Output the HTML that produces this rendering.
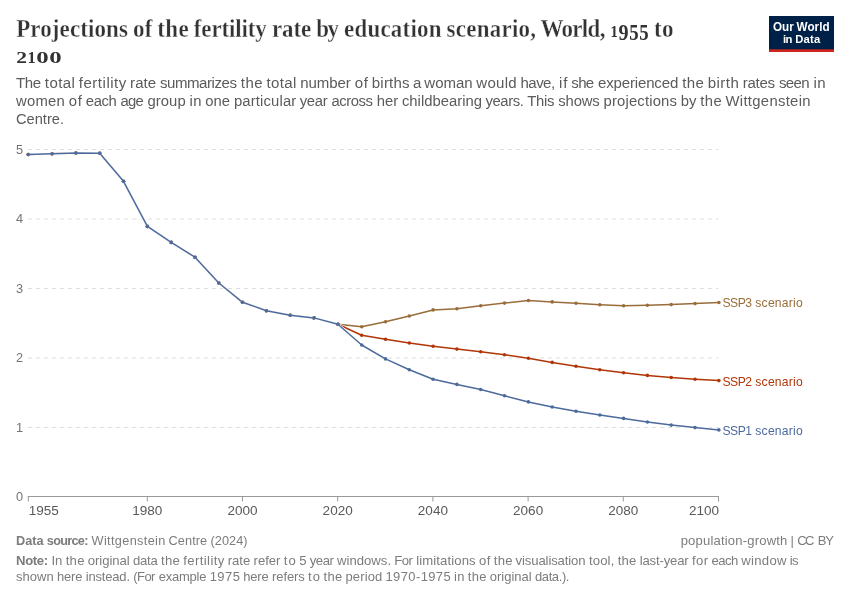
<!DOCTYPE html>
<html lang="en"><head><meta charset="utf-8"><title>Projections of the fertility rate by education scenario, World, 1955 to 2100</title>
<style>html,body{margin:0;padding:0;background:#fff}svg{display:block}</style></head><body>

<svg width="850" height="600" viewBox="0 0 850 600">
<rect width="850" height="600" fill="#fff"/>

<rect x="769" y="16" width="65" height="36" fill="#002147"/><rect x="769" y="49.3" width="65" height="2.7" fill="#ce261e"/>
<g stroke="#ddd" stroke-width="1" stroke-dasharray="4,4" fill="none">
<line x1="28.1" x2="718.5" y1="427.50" y2="427.50"/>
<line x1="28.1" x2="718.5" y1="358.00" y2="358.00"/>
<line x1="28.1" x2="718.5" y1="288.50" y2="288.50"/>
<line x1="28.1" x2="718.5" y1="219.00" y2="219.00"/>
<line x1="28.1" x2="718.5" y1="149.50" y2="149.50"/>
</g>
<g stroke="#999" stroke-width="1" fill="none"><line x1="27.8" x2="719.0" y1="496.5" y2="496.5"/>
<line x1="28.30" x2="28.30" y1="496.5" y2="501.5"/>
<line x1="147.30" x2="147.30" y1="496.5" y2="501.5"/>
<line x1="242.50" x2="242.50" y1="496.5" y2="501.5"/>
<line x1="337.70" x2="337.70" y1="496.5" y2="501.5"/>
<line x1="432.90" x2="432.90" y1="496.5" y2="501.5"/>
<line x1="528.10" x2="528.10" y1="496.5" y2="501.5"/>
<line x1="623.30" x2="623.30" y1="496.5" y2="501.5"/>
<line x1="718.50" x2="718.50" y1="496.5" y2="501.5"/>
</g>
<g><path d="M28.3,154.5 L52.1,153.8 L75.9,153.1 L99.7,153.3 L123.5,181.3 L147.4,226.4 L171.2,242.4 L195.0,257.2 L218.8,283.0 L242.6,302.3 L266.4,310.7 L290.2,315.2 L314.0,317.9 L337.9,324.3 L361.7,326.7 L385.5,321.8 L409.3,316.0 L433.1,309.9 L456.9,308.7 L480.7,305.7 L504.5,303.1 L528.4,300.5 L552.2,301.9 L576.0,303.3 L599.8,304.7 L623.6,305.7 L647.4,305.2 L671.2,304.6 L695.0,303.6 L718.9,302.5" fill="none" stroke="#fff" stroke-width="2.6" stroke-linejoin="round" stroke-linecap="butt"/>
<path d="M28.3,154.5 L52.1,153.8 L75.9,153.1 L99.7,153.3 L123.5,181.3 L147.4,226.4 L171.2,242.4 L195.0,257.2 L218.8,283.0 L242.6,302.3 L266.4,310.7 L290.2,315.2 L314.0,317.9 L337.9,324.3 L361.7,326.7 L385.5,321.8 L409.3,316.0 L433.1,309.9 L456.9,308.7 L480.7,305.7 L504.5,303.1 L528.4,300.5 L552.2,301.9 L576.0,303.3 L599.8,304.7 L623.6,305.7 L647.4,305.2 L671.2,304.6 L695.0,303.6 L718.9,302.5" fill="none" stroke="#996D39" stroke-width="1.5" stroke-linejoin="round" stroke-linecap="butt"/>
<g fill="#996D39"><circle cx="28.3" cy="154.5" r="1.8"/><circle cx="52.1" cy="153.8" r="1.8"/><circle cx="75.9" cy="153.1" r="1.8"/><circle cx="99.7" cy="153.3" r="1.8"/><circle cx="123.5" cy="181.3" r="1.8"/><circle cx="147.4" cy="226.4" r="1.8"/><circle cx="171.2" cy="242.4" r="1.8"/><circle cx="195.0" cy="257.2" r="1.8"/><circle cx="218.8" cy="283.0" r="1.8"/><circle cx="242.6" cy="302.3" r="1.8"/><circle cx="266.4" cy="310.7" r="1.8"/><circle cx="290.2" cy="315.2" r="1.8"/><circle cx="314.0" cy="317.9" r="1.8"/><circle cx="337.9" cy="324.3" r="1.8"/><circle cx="361.7" cy="326.7" r="1.8"/><circle cx="385.5" cy="321.8" r="1.8"/><circle cx="409.3" cy="316.0" r="1.8"/><circle cx="433.1" cy="309.9" r="1.8"/><circle cx="456.9" cy="308.7" r="1.8"/><circle cx="480.7" cy="305.7" r="1.8"/><circle cx="504.5" cy="303.1" r="1.8"/><circle cx="528.4" cy="300.5" r="1.8"/><circle cx="552.2" cy="301.9" r="1.8"/><circle cx="576.0" cy="303.3" r="1.8"/><circle cx="599.8" cy="304.7" r="1.8"/><circle cx="623.6" cy="305.7" r="1.8"/><circle cx="647.4" cy="305.2" r="1.8"/><circle cx="671.2" cy="304.6" r="1.8"/><circle cx="695.0" cy="303.6" r="1.8"/><circle cx="718.9" cy="302.5" r="1.8"/></g></g>

<g><path d="M28.3,154.5 L52.1,153.8 L75.9,153.1 L99.7,153.3 L123.5,181.3 L147.4,226.4 L171.2,242.4 L195.0,257.2 L218.8,283.0 L242.6,302.3 L266.4,310.7 L290.2,315.2 L314.0,317.9 L337.9,324.3 L361.7,335.3 L385.5,339.3 L409.3,343.0 L433.1,346.3 L456.9,349.1 L480.7,351.7 L504.5,354.7 L528.4,358.2 L552.2,362.4 L576.0,366.2 L599.8,369.7 L623.6,372.7 L647.4,375.4 L671.2,377.5 L695.0,379.2 L718.9,380.6" fill="none" stroke="#fff" stroke-width="2.6" stroke-linejoin="round" stroke-linecap="butt"/>
<path d="M28.3,154.5 L52.1,153.8 L75.9,153.1 L99.7,153.3 L123.5,181.3 L147.4,226.4 L171.2,242.4 L195.0,257.2 L218.8,283.0 L242.6,302.3 L266.4,310.7 L290.2,315.2 L314.0,317.9 L337.9,324.3 L361.7,335.3 L385.5,339.3 L409.3,343.0 L433.1,346.3 L456.9,349.1 L480.7,351.7 L504.5,354.7 L528.4,358.2 L552.2,362.4 L576.0,366.2 L599.8,369.7 L623.6,372.7 L647.4,375.4 L671.2,377.5 L695.0,379.2 L718.9,380.6" fill="none" stroke="#B13507" stroke-width="1.5" stroke-linejoin="round" stroke-linecap="butt"/>
<g fill="#B13507"><circle cx="28.3" cy="154.5" r="1.8"/><circle cx="52.1" cy="153.8" r="1.8"/><circle cx="75.9" cy="153.1" r="1.8"/><circle cx="99.7" cy="153.3" r="1.8"/><circle cx="123.5" cy="181.3" r="1.8"/><circle cx="147.4" cy="226.4" r="1.8"/><circle cx="171.2" cy="242.4" r="1.8"/><circle cx="195.0" cy="257.2" r="1.8"/><circle cx="218.8" cy="283.0" r="1.8"/><circle cx="242.6" cy="302.3" r="1.8"/><circle cx="266.4" cy="310.7" r="1.8"/><circle cx="290.2" cy="315.2" r="1.8"/><circle cx="314.0" cy="317.9" r="1.8"/><circle cx="337.9" cy="324.3" r="1.8"/><circle cx="361.7" cy="335.3" r="1.8"/><circle cx="385.5" cy="339.3" r="1.8"/><circle cx="409.3" cy="343.0" r="1.8"/><circle cx="433.1" cy="346.3" r="1.8"/><circle cx="456.9" cy="349.1" r="1.8"/><circle cx="480.7" cy="351.7" r="1.8"/><circle cx="504.5" cy="354.7" r="1.8"/><circle cx="528.4" cy="358.2" r="1.8"/><circle cx="552.2" cy="362.4" r="1.8"/><circle cx="576.0" cy="366.2" r="1.8"/><circle cx="599.8" cy="369.7" r="1.8"/><circle cx="623.6" cy="372.7" r="1.8"/><circle cx="647.4" cy="375.4" r="1.8"/><circle cx="671.2" cy="377.5" r="1.8"/><circle cx="695.0" cy="379.2" r="1.8"/><circle cx="718.9" cy="380.6" r="1.8"/></g></g>

<g><path d="M28.3,154.5 L52.1,153.8 L75.9,153.1 L99.7,153.3 L123.5,181.3 L147.4,226.4 L171.2,242.4 L195.0,257.2 L218.8,283.0 L242.6,302.3 L266.4,310.7 L290.2,315.2 L314.0,317.9 L337.9,324.3 L361.7,345.0 L385.5,358.9 L409.3,369.7 L433.1,379.2 L456.9,384.4 L480.7,389.5 L504.5,395.8 L528.4,401.9 L552.2,407.0 L576.0,411.2 L599.8,415.0 L623.6,418.4 L647.4,422.0 L671.2,425.1 L695.0,427.6 L718.9,429.9" fill="none" stroke="#fff" stroke-width="2.6" stroke-linejoin="round" stroke-linecap="butt"/>
<path d="M28.3,154.5 L52.1,153.8 L75.9,153.1 L99.7,153.3 L123.5,181.3 L147.4,226.4 L171.2,242.4 L195.0,257.2 L218.8,283.0 L242.6,302.3 L266.4,310.7 L290.2,315.2 L314.0,317.9 L337.9,324.3 L361.7,345.0 L385.5,358.9 L409.3,369.7 L433.1,379.2 L456.9,384.4 L480.7,389.5 L504.5,395.8 L528.4,401.9 L552.2,407.0 L576.0,411.2 L599.8,415.0 L623.6,418.4 L647.4,422.0 L671.2,425.1 L695.0,427.6 L718.9,429.9" fill="none" stroke="#4C6A9C" stroke-width="1.5" stroke-linejoin="round" stroke-linecap="butt"/>
<g fill="#4C6A9C"><circle cx="28.3" cy="154.5" r="1.8"/><circle cx="52.1" cy="153.8" r="1.8"/><circle cx="75.9" cy="153.1" r="1.8"/><circle cx="99.7" cy="153.3" r="1.8"/><circle cx="123.5" cy="181.3" r="1.8"/><circle cx="147.4" cy="226.4" r="1.8"/><circle cx="171.2" cy="242.4" r="1.8"/><circle cx="195.0" cy="257.2" r="1.8"/><circle cx="218.8" cy="283.0" r="1.8"/><circle cx="242.6" cy="302.3" r="1.8"/><circle cx="266.4" cy="310.7" r="1.8"/><circle cx="290.2" cy="315.2" r="1.8"/><circle cx="314.0" cy="317.9" r="1.8"/><circle cx="337.9" cy="324.3" r="1.8"/><circle cx="361.7" cy="345.0" r="1.8"/><circle cx="385.5" cy="358.9" r="1.8"/><circle cx="409.3" cy="369.7" r="1.8"/><circle cx="433.1" cy="379.2" r="1.8"/><circle cx="456.9" cy="384.4" r="1.8"/><circle cx="480.7" cy="389.5" r="1.8"/><circle cx="504.5" cy="395.8" r="1.8"/><circle cx="528.4" cy="401.9" r="1.8"/><circle cx="552.2" cy="407.0" r="1.8"/><circle cx="576.0" cy="411.2" r="1.8"/><circle cx="599.8" cy="415.0" r="1.8"/><circle cx="623.6" cy="418.4" r="1.8"/><circle cx="647.4" cy="422.0" r="1.8"/><circle cx="671.2" cy="425.1" r="1.8"/><circle cx="695.0" cy="427.6" r="1.8"/><circle cx="718.9" cy="429.9" r="1.8"/></g></g>

<text y="36.9" transform="scale(0.9216,1)" font-family="'Liberation Serif', 'Times New Roman', Times, serif" font-size="24.94" fill="#333" stroke="#fff" stroke-width="0.33" stroke-linejoin="round"><tspan x="17.58" y="36.9" textLength="121.16" lengthAdjust="spacing" font-weight="700">Projections</tspan> <tspan x="144.3" y="36.9" textLength="21.11" lengthAdjust="spacing" font-weight="700">of</tspan> <tspan x="170.68" y="36.9" textLength="34.06" lengthAdjust="spacing" font-weight="700">the</tspan> <tspan x="210.29" y="36.9" textLength="79.26" lengthAdjust="spacing" font-weight="700">fertility</tspan> <tspan x="295.12" y="36.9" textLength="42.59" lengthAdjust="spacing" font-weight="700">rate</tspan> <tspan x="343.27" y="36.9" textLength="24.57" lengthAdjust="spacing" font-weight="700">by</tspan> <tspan x="373.4" y="36.9" textLength="105.58" lengthAdjust="spacing" font-weight="700">education</tspan> <tspan x="484.54" y="36.9" textLength="97.17" lengthAdjust="spacing" font-weight="700">scenario,</tspan> <tspan x="586.42" y="36.9" textLength="70.58" lengthAdjust="spacing" font-weight="700">World,</tspan> <tspan x="662.57" y="36.9" font-size="17.2" textLength="7.96" lengthAdjust="spacingAndGlyphs" font-weight="700" stroke="none">1</tspan> <tspan x="671.18" y="40.3" font-size="23.44" textLength="10.94" lengthAdjust="spacingAndGlyphs" font-weight="700" stroke="none">9</tspan> <tspan x="682.76" y="40.3" font-size="23.44" textLength="10.16" lengthAdjust="spacingAndGlyphs" font-weight="700" stroke="none">5</tspan> <tspan x="693.58" y="40.3" font-size="23.44" textLength="10.16" lengthAdjust="spacingAndGlyphs" font-weight="700" stroke="none">5</tspan> <tspan x="709.67" y="36.9" textLength="21.21" lengthAdjust="spacing" font-weight="700">to</tspan></text>
<text y="63" font-family="'Liberation Serif', 'Times New Roman', Times, serif" font-size="24.94" fill="#333" stroke="#fff" stroke-width="0.33" stroke-linejoin="round"><tspan x="16.2" y="63" font-size="17.2" textLength="10.72" lengthAdjust="spacingAndGlyphs" font-weight="700" stroke="none">2</tspan> <tspan x="27.52" y="63" font-size="17.2" textLength="8.23" lengthAdjust="spacingAndGlyphs" font-weight="700" stroke="none">1</tspan> <tspan x="36.35" y="63" font-size="17.2" textLength="12.42" lengthAdjust="spacingAndGlyphs" font-weight="700" stroke="none">0</tspan> <tspan x="49.37" y="63" font-size="17.2" textLength="12.42" lengthAdjust="spacingAndGlyphs" font-weight="700" stroke="none">0</tspan></text>
<text y="87.7" transform="scale(1.0037,1)" font-family="'Liberation Sans', Arial, Helvetica, sans-serif" font-size="15" fill="#5b5b5b"><tspan x="15.94" textLength="24.94" lengthAdjust="spacing">The</tspan> <tspan x="44.69" textLength="29.98" lengthAdjust="spacing">total</tspan> <tspan x="78.49" textLength="47.34" lengthAdjust="spacing">fertility</tspan> <tspan x="129.65" textLength="25.87" lengthAdjust="spacing">rate</tspan> <tspan x="159.33" textLength="76.83" lengthAdjust="spacing">summarizes</tspan> <tspan x="239.97" textLength="21.61" lengthAdjust="spacing">the</tspan> <tspan x="265.4" textLength="29.98" lengthAdjust="spacing">total</tspan> <tspan x="299.19" textLength="50.36" lengthAdjust="spacing">number</tspan> <tspan x="353.37" textLength="13.28" lengthAdjust="spacing">of</tspan> <tspan x="370.46" textLength="37.58" lengthAdjust="spacing">births</tspan> <tspan x="411.41">a</tspan> <tspan x="422.8" textLength="48.18" lengthAdjust="spacing">woman</tspan> <tspan x="474.48" textLength="40.35" lengthAdjust="spacing">would</tspan> <tspan x="518.65" textLength="34.4" lengthAdjust="spacing">have,</tspan> <tspan x="556.87" textLength="8.56" lengthAdjust="spacing">if</tspan> <tspan x="569.24" textLength="22.71" lengthAdjust="spacing">she</tspan> <tspan x="595.77" textLength="80.03" lengthAdjust="spacing">experienced</tspan> <tspan x="679.62" textLength="21.59" lengthAdjust="spacing">the</tspan> <tspan x="705.03" textLength="31.1" lengthAdjust="spacing">birth</tspan> <tspan x="739.94" textLength="32.35" lengthAdjust="spacing">rates</tspan> <tspan x="776.11" textLength="30.61" lengthAdjust="spacing">seen</tspan> <tspan x="810.53" textLength="11.94" lengthAdjust="spacing">in</tspan></text>
<text y="105.7" transform="scale(0.9898,1)" font-family="'Liberation Sans', Arial, Helvetica, sans-serif" font-size="15" fill="#5b5b5b"><tspan x="16.17" textLength="49.32" lengthAdjust="spacing">women</tspan> <tspan x="69.35" textLength="13.48" lengthAdjust="spacing">of</tspan> <tspan x="86.69" textLength="31.24" lengthAdjust="spacing">each</tspan> <tspan x="121.8" textLength="23.32" lengthAdjust="spacing">age</tspan> <tspan x="148.96" textLength="38.65" lengthAdjust="spacing">group</tspan> <tspan x="191.48" textLength="12.11" lengthAdjust="spacing">in</tspan> <tspan x="207.45" textLength="25.05" lengthAdjust="spacing">one</tspan> <tspan x="236.38" textLength="62.89" lengthAdjust="spacing">particular</tspan> <tspan x="302.74" textLength="28.35" lengthAdjust="spacing">year</tspan> <tspan x="334.96" textLength="41.71" lengthAdjust="spacing">across</tspan> <tspan x="380.54" textLength="21.66" lengthAdjust="spacing">her</tspan> <tspan x="406.07" textLength="80.92" lengthAdjust="spacing">childbearing</tspan> <tspan x="490.48" textLength="38.76" lengthAdjust="spacing">years.</tspan> <tspan x="532.65" textLength="27.48" lengthAdjust="spacing">This</tspan> <tspan x="564" textLength="41.93" lengthAdjust="spacing">shows</tspan> <tspan x="609.78" textLength="74.13" lengthAdjust="spacing">projections</tspan> <tspan x="687.78" textLength="15.74" lengthAdjust="spacing">by</tspan> <tspan x="707.39" textLength="21.91" lengthAdjust="spacing">the</tspan> <tspan x="732.96" textLength="85.91" lengthAdjust="spacing">Wittgenstein</tspan></text>
<text y="123.7" transform="scale(0.9768,1)" font-family="'Liberation Sans', Arial, Helvetica, sans-serif" font-size="15" fill="#5b5b5b"><tspan x="16.38" textLength="49.19" lengthAdjust="spacing">Centre.</tspan></text>
<text y="30.8" transform="scale(0.9742,1)" font-family="'Liberation Sans', Arial, Helvetica, sans-serif" font-size="12" fill="#fff"><tspan x="793.6" textLength="21.17" lengthAdjust="spacing" font-weight="700">Our</tspan> <tspan x="817.66" textLength="33.94" lengthAdjust="spacing" font-weight="700">World</tspan></text>
<text y="42.6" transform="scale(0.9646,1)" font-family="'Liberation Sans', Arial, Helvetica, sans-serif" font-size="11.7" fill="#fff"><tspan x="811.62" textLength="9.91" lengthAdjust="spacing" font-weight="700">in</tspan> <tspan x="824.46" textLength="25.8" lengthAdjust="spacing" font-weight="700">Data</tspan></text>
<text y="501.3" transform="scale(1.0443,1)" font-family="'Liberation Sans', Arial, Helvetica, sans-serif" font-size="12.2" fill="#747474"><tspan x="15.44">0</tspan></text>
<text y="431.8" transform="scale(1.0443,1)" font-family="'Liberation Sans', Arial, Helvetica, sans-serif" font-size="12.2" fill="#747474"><tspan x="15.44">1</tspan></text>
<text y="362.3" transform="scale(1.0443,1)" font-family="'Liberation Sans', Arial, Helvetica, sans-serif" font-size="12.2" fill="#747474"><tspan x="15.44">2</tspan></text>
<text y="292.8" transform="scale(1.0443,1)" font-family="'Liberation Sans', Arial, Helvetica, sans-serif" font-size="12.2" fill="#747474"><tspan x="15.44">3</tspan></text>
<text y="223.3" transform="scale(1.0443,1)" font-family="'Liberation Sans', Arial, Helvetica, sans-serif" font-size="12.2" fill="#747474"><tspan x="15.44">4</tspan></text>
<text y="153.8" transform="scale(1.0443,1)" font-family="'Liberation Sans', Arial, Helvetica, sans-serif" font-size="12.2" fill="#747474"><tspan x="15.44">5</tspan></text>
<text y="515.1" transform="scale(1.0433,1)" font-family="'Liberation Sans', Arial, Helvetica, sans-serif" font-size="13" fill="#5a5a5a"><tspan x="27.51" textLength="28.92" lengthAdjust="spacing">1955</tspan></text>
<text y="515.1" transform="scale(1.0433,1)" font-family="'Liberation Sans', Arial, Helvetica, sans-serif" font-size="13" fill="#5a5a5a"><tspan x="126.73" textLength="28.92" lengthAdjust="spacing">1980</tspan></text>
<text y="515.1" transform="scale(1.0433,1)" font-family="'Liberation Sans', Arial, Helvetica, sans-serif" font-size="13" fill="#5a5a5a"><tspan x="217.98" textLength="28.92" lengthAdjust="spacing">2000</tspan></text>
<text y="515.1" transform="scale(1.0433,1)" font-family="'Liberation Sans', Arial, Helvetica, sans-serif" font-size="13" fill="#5a5a5a"><tspan x="309.23" textLength="28.92" lengthAdjust="spacing">2020</tspan></text>
<text y="515.1" transform="scale(1.0433,1)" font-family="'Liberation Sans', Arial, Helvetica, sans-serif" font-size="13" fill="#5a5a5a"><tspan x="400.48" textLength="28.92" lengthAdjust="spacing">2040</tspan></text>
<text y="515.1" transform="scale(1.0433,1)" font-family="'Liberation Sans', Arial, Helvetica, sans-serif" font-size="13" fill="#5a5a5a"><tspan x="491.73" textLength="28.92" lengthAdjust="spacing">2060</tspan></text>
<text y="515.1" transform="scale(1.0433,1)" font-family="'Liberation Sans', Arial, Helvetica, sans-serif" font-size="13" fill="#5a5a5a"><tspan x="582.98" textLength="28.92" lengthAdjust="spacing">2080</tspan></text>
<text y="515.1" transform="scale(1.0433,1)" font-family="'Liberation Sans', Arial, Helvetica, sans-serif" font-size="13" fill="#5a5a5a"><tspan x="660.34" textLength="28.92" lengthAdjust="spacing">2100</tspan></text>
<text y="307" transform="scale(0.9347,1)" font-family="'Liberation Sans', Arial, Helvetica, sans-serif" font-size="13" fill="#996D39"><tspan x="772.98" textLength="31.51" lengthAdjust="spacing">SSP3</tspan> <tspan x="808.03" textLength="50.87" lengthAdjust="spacing">scenario</tspan></text>
<text y="386" transform="scale(0.9347,1)" font-family="'Liberation Sans', Arial, Helvetica, sans-serif" font-size="13" fill="#B13507"><tspan x="772.98" textLength="31.51" lengthAdjust="spacing">SSP2</tspan> <tspan x="808.03" textLength="50.87" lengthAdjust="spacing">scenario</tspan></text>
<text y="435" transform="scale(0.9347,1)" font-family="'Liberation Sans', Arial, Helvetica, sans-serif" font-size="13" fill="#4C6A9C"><tspan x="772.98" textLength="31.51" lengthAdjust="spacing">SSP1</tspan> <tspan x="808.03" textLength="50.87" lengthAdjust="spacing">scenario</tspan></text>
<text y="545.2" transform="scale(0.9796,1)" font-family="'Liberation Sans', Arial, Helvetica, sans-serif" font-size="13" fill="#7c7c7c"><tspan x="16.33" textLength="28.25" lengthAdjust="spacing" font-weight="700">Data</tspan> <tspan x="47.79" textLength="42.49" lengthAdjust="spacing" font-weight="700">source:</tspan> <tspan x="93.49" textLength="75.24" lengthAdjust="spacing">Wittgenstein</tspan> <tspan x="172.11" textLength="39.4" lengthAdjust="spacing">Centre</tspan> <tspan x="214.89" textLength="37.88" lengthAdjust="spacing">(2024)</tspan></text>
<text y="545.2" transform="scale(1.0042,1)" font-family="'Liberation Sans', Arial, Helvetica, sans-serif" font-size="13" fill="#7c7c7c"><tspan x="677.8" textLength="106.29" lengthAdjust="spacing">population-growth</tspan> <tspan x="787.32">|</tspan> <tspan x="793.94" textLength="17.13" lengthAdjust="spacing">CC</tspan> <tspan x="814.37" textLength="16.17" lengthAdjust="spacing">BY</tspan></text>
<text y="565.1" transform="scale(1.011,1)" font-family="'Liberation Sans', Arial, Helvetica, sans-serif" font-size="13" fill="#7c7c7c"><tspan x="15.83" textLength="31.88" lengthAdjust="spacing" font-weight="700">Note:</tspan> <tspan x="50.99" textLength="10.69" lengthAdjust="spacing">In</tspan> <tspan x="64.96" textLength="18.59" lengthAdjust="spacing">the</tspan> <tspan x="86.83" textLength="41.45" lengthAdjust="spacing">original</tspan> <tspan x="131.55" textLength="24.53" lengthAdjust="spacing">data</tspan> <tspan x="159.36" textLength="18.59" lengthAdjust="spacing">the</tspan> <tspan x="181.22" textLength="40.74" lengthAdjust="spacing">fertility</tspan> <tspan x="225.24" textLength="22.27" lengthAdjust="spacing">rate</tspan> <tspan x="250.79" textLength="26.64" lengthAdjust="spacing">refer</tspan> <tspan x="280.71" textLength="11.88" lengthAdjust="spacing">to</tspan> <tspan x="295.99">5</tspan> <tspan x="306.3" textLength="24.05" lengthAdjust="spacing">year</tspan> <tspan x="333.36" textLength="53.43" lengthAdjust="spacing">windows.</tspan> <tspan x="390.07" textLength="18.42" lengthAdjust="spacing">For</tspan> <tspan x="411.77" textLength="58.68" lengthAdjust="spacing">limitations</tspan> <tspan x="473.72" textLength="11.42" lengthAdjust="spacing">of</tspan> <tspan x="488.42" textLength="18.59" lengthAdjust="spacing">the</tspan> <tspan x="509.98" textLength="69.25" lengthAdjust="spacing">visualisation</tspan> <tspan x="582.51" textLength="25.13" lengthAdjust="spacing">tool,</tspan> <tspan x="610.92" textLength="18.58" lengthAdjust="spacing">the</tspan> <tspan x="632.77" textLength="48.44" lengthAdjust="spacing">last-year</tspan> <tspan x="684.48" textLength="16.01" lengthAdjust="spacing">for</tspan> <tspan x="703.77" textLength="26.52" lengthAdjust="spacing">each</tspan> <tspan x="733.31" textLength="44.6" lengthAdjust="spacing">window</tspan> <tspan x="781.18" textLength="8.67" lengthAdjust="spacing">is</tspan></text>
<text y="580.7" transform="scale(0.9986,1)" font-family="'Liberation Sans', Arial, Helvetica, sans-serif" font-size="13" fill="#7c7c7c"><tspan x="16.02" textLength="37.68" lengthAdjust="spacing">shown</tspan> <tspan x="57.02" textLength="25.5" lengthAdjust="spacing">here</tspan> <tspan x="85.84" textLength="44.37" lengthAdjust="spacing">instead.</tspan> <tspan x="133.53" textLength="22.14" lengthAdjust="spacing">(For</tspan> <tspan x="158.99" textLength="47.71" lengthAdjust="spacing">example</tspan> <tspan x="210.01" textLength="30.21" lengthAdjust="spacing">1975</tspan> <tspan x="243.54" textLength="25.5" lengthAdjust="spacing">here</tspan> <tspan x="272.37" textLength="32.86" lengthAdjust="spacing">refers</tspan> <tspan x="308.54" textLength="12.02" lengthAdjust="spacing">to</tspan> <tspan x="323.88" textLength="18.82" lengthAdjust="spacing">the</tspan> <tspan x="346.02" textLength="36.72" lengthAdjust="spacing">period</tspan> <tspan x="386.06" textLength="65.26" lengthAdjust="spacing">1970-1975</tspan> <tspan x="454.64" textLength="10.41" lengthAdjust="spacing">in</tspan> <tspan x="468.36" textLength="18.81" lengthAdjust="spacing">the</tspan> <tspan x="490.48" textLength="41.97" lengthAdjust="spacing">original</tspan> <tspan x="535.77" textLength="34.45" lengthAdjust="spacing">data.).</tspan></text>
</svg></body></html>
